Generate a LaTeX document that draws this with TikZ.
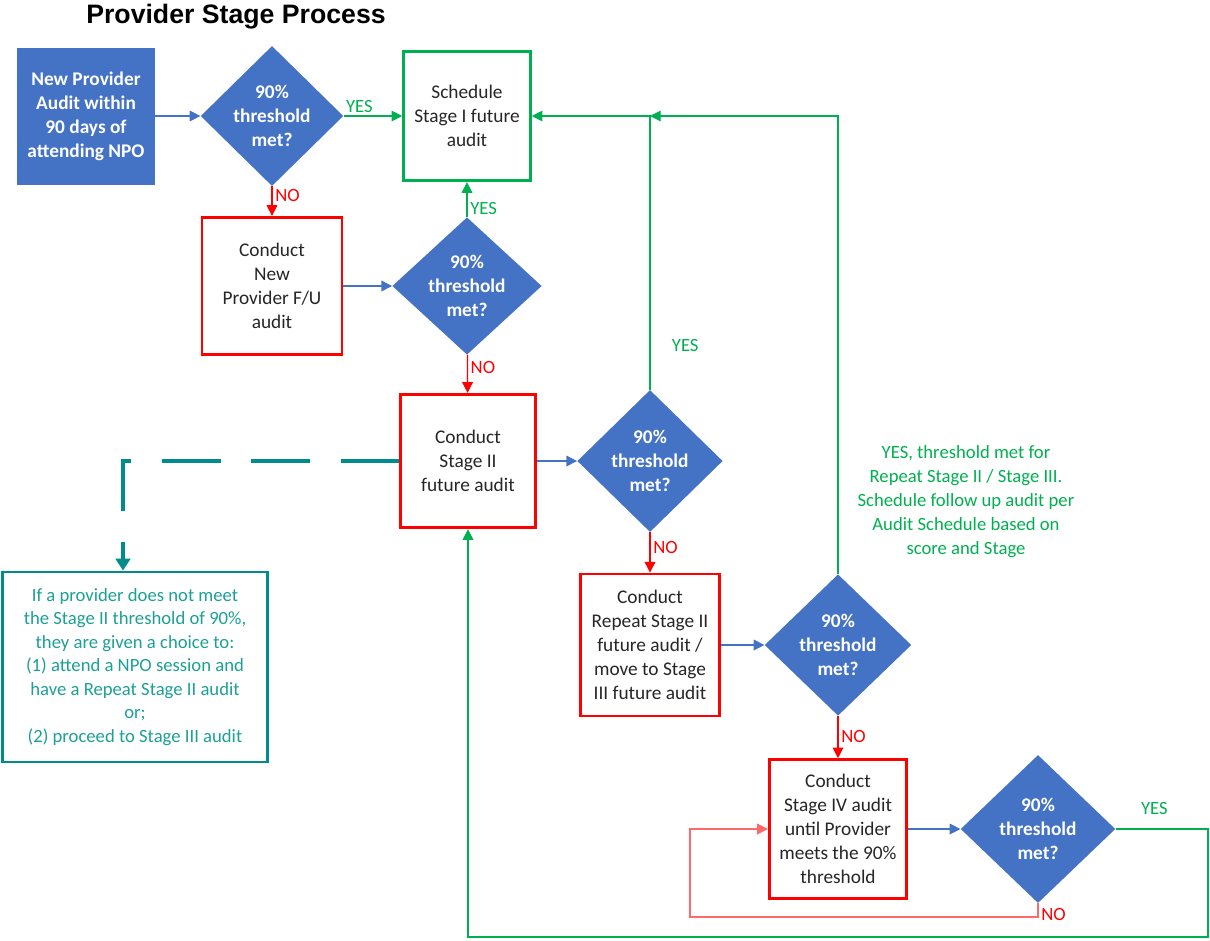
\documentclass[tikz,border=0pt]{standalone}
\usepackage{fontspec}
\setmainfont{Carlito}
\newfontfamily\titlefont{Liberation Sans}
\usepackage{tikz}
\usetikzlibrary{arrows.meta, positioning, shapes.geometric}
\definecolor{FlowBlue}{RGB}{68,114,196}
\definecolor{FlowGreen}{RGB}{0,176,80}
\definecolor{FlowRed}{RGB}{255,0,0}
\definecolor{LoopRed}{RGB}{255,105,105}
\definecolor{NoteTeal}{RGB}{0,140,140}
\definecolor{NoteText}{RGB}{28,160,150}
\definecolor{BoxText}{RGB}{38,38,38}

\begin{document}
\begin{tikzpicture}[
		x=0.75pt, y=-0.75pt,
		base/.style={
			rectangle, align=center, inner sep=2pt,
			font=\fontsize{14.5}{18}\selectfont
		},
		startNode/.style={base, fill=FlowBlue, text=white, font=\fontsize{14.5}{18}\selectfont\bfseries},
		greenNode/.style={base, draw=FlowGreen, line width=2.2pt, fill=white, text=BoxText},
		redNode/.style={base, draw=FlowRed, line width=2.2pt, fill=white, text=BoxText},
		decision/.style={
			diamond, aspect=1, inner sep=-3pt, fill=FlowBlue, text=white,
			align=center, font=\fontsize{14.5}{18}\selectfont\bfseries
		},
		noteNode/.style={base, draw=NoteTeal, line width=2.2pt, text=NoteText, font=\fontsize{14}{17.6}\selectfont},
		arrow/.style={-{Triangle[length=8pt, width=8pt]}, line width=0.9pt},
		blueArrow/.style={arrow, FlowBlue},
		yesArrow/.style={arrow, FlowGreen},
		noArrow/.style={arrow, FlowRed},
		loopArrow/.style={arrow, LoopRed},
		noteArrow/.style={-{Triangle[length=9pt, width=11pt]}, NoteTeal, line width=2.8pt, dash pattern=on 44pt off 23pt},
		yesText/.style={text=FlowGreen, inner sep=2pt, font=\fontsize{14}{17}\selectfont},
		noText/.style={text=FlowRed, inner sep=2pt, font=\fontsize{14}{17}\selectfont}
		]
		\useasboundingbox (0,0) rectangle (1210,940);
		
		\node[font=\titlefont\fontsize{20}{24}\selectfont\bfseries] (title) at (236,17) {Provider Stage Process};
		
		\node[startNode, minimum width=103.5pt, minimum height=102.75pt] (start) at (86,116) {New Provider\\Audit within\\90 days of\\attending NPO};
		\node[decision, minimum width=107pt, minimum height=105pt] (d1) at (272,116) {90\%\\threshold\\met?};
		\node[greenNode, minimum width=95pt, minimum height=97pt] (sched1) at (467,116) {Schedule\\Stage I future\\audit};
		
		\node[redNode, minimum width=105pt, minimum height=103pt] (fu) at (272,286) {Conduct\\New\\Provider F/U\\audit};
		\node[decision, minimum width=112pt, minimum height=103pt] (d2) at (467,286) {90\%\\threshold\\met?};
		
		\node[redNode, minimum width=101pt, minimum height=100pt] (stage2) at (468,461) {Conduct\\Stage II\\future audit};
		\node[decision, minimum width=109pt, minimum height=106.5pt] (d3) at (650,461) {90\%\\threshold\\met?};
		
		\node[redNode, minimum width=104pt, minimum height=106.5pt] (rep) at (650,645) {Conduct\\Repeat Stage II\\future audit /\\move to Stage\\III future audit};
		\node[decision, minimum width=110pt, minimum height=106pt] (d4) at (838,645) {90\%\\threshold\\met?};
		
		\node[redNode, minimum width=103pt, minimum height=104pt] (st4) at (838,829) {Conduct\\Stage IV audit\\until Provider\\meets the 90\%\\threshold};
		\node[decision, minimum width=116pt, minimum height=111pt] (d5) at (1038,829) {90\%\\threshold\\met?};
		
		\node[noteNode, minimum width=199pt, minimum height=142.5pt] (note) at (135,667) {If a provider does not meet\\the Stage II threshold of 90\%,\\they are given a choice to:\\(1) attend a NPO session and\\have a Repeat Stage II audit\\or;\\(2) proceed to Stage III audit};
		\node[yesText, align=center, font=\fontsize{14}{18}\selectfont] (yesNote) at (966,502) {YES, threshold met for\\Repeat Stage II / Stage III.\\Schedule follow up audit per\\Audit Schedule based on\\score and Stage};
		
		\draw [blueArrow] (start) -- (d1);
		\draw [yesArrow] (d1) -- node[yesText, above, pos=0.27] {YES} (sched1);
		\draw [noArrow] (d1) -- node[noText, right, pos=0.3] {NO} (fu);
		\draw [blueArrow] (fu) -- (d2);
		\draw [yesArrow] (d2) -- node[yesText, right, pos=0.25] {YES} (sched1);
		\draw [noArrow] (d2) -- node[noText, right, pos=0.34] {NO} (stage2);
		\draw [blueArrow] (stage2) -- (d3);
		\draw [yesArrow] (d3.north) |- node[yesText, right, pos=0.08, xshift=14pt] {YES} (sched1.east);
		\draw [noArrow] (d3) -- node[noText, right, pos=0.39] {NO} (rep);
		\draw [blueArrow] (rep) -- (d4);
		\draw [yesArrow] (d4.north) |- (d3.north |- sched1.east);
		\draw [noArrow] (d4) -- node[noText, right, pos=0.49] {NO} (st4);
		\draw [blueArrow] (st4) -- (d5);
		\draw [loopArrow] (d5.south) |- node[noText, right, pos=0.4] {NO} (690,917) |- (st4.west);
		\draw [yesArrow] (d5.east) -| node[yesText, above=8pt, pos=0.21] {YES} (1208,937) -| (stage2.south);
		\draw [noteArrow] (stage2.west) -| ([xshift=-9pt]note.north);
	\end{tikzpicture}
\end{document}
